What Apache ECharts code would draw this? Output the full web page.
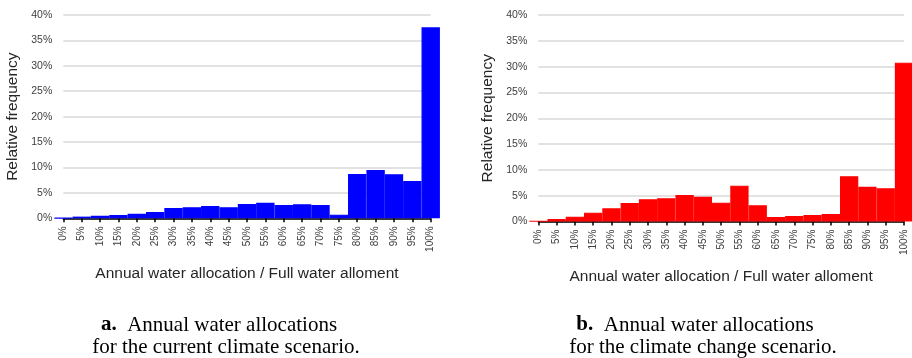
<!DOCTYPE html>
<html>
<head>
<meta charset="utf-8">
<script src="https://cdn.jsdelivr.net/npm/echarts@6/dist/echarts.min.js"></script>
<style>
  html, body { margin: 0; padding: 0; background: #ffffff; }
  #chart { width: 912px; height: 358px; }
</style>
</head>
<body>
<div id="chart"></div>
<script>
// Allocation classes (share of the full water allotment)
const allocationClasses = ['0%', '5%', '10%', '15%', '20%', '25%', '30%', '35%', '40%', '45%', '50%',
  '55%', '60%', '65%', '70%', '75%', '80%', '85%', '90%', '95%', '100%'];

// Relative frequency (%) of each class, current climate scenario
const currentClimate = [0.1, 0.33, 0.5, 0.66, 0.9, 1.24, 2.03, 2.16, 2.42, 2.16, 2.81,
  3.07, 2.62, 2.75, 2.62, 0.72, 8.72, 9.5, 8.66, 7.34, 37.57];

// Relative frequency (%) of each class, climate change scenario
const climateChange = [0.1, 0.48, 0.94, 1.71, 2.55, 3.58, 4.3, 4.5, 5.14, 4.8, 3.65,
  6.94, 3.14, 0.87, 1.07, 1.26, 1.45, 8.76, 6.74, 6.43, 30.77];

// Y axis range and step (%)
const yMin = 0, yMax = 40, yStep = 5;

const xAxisName = 'Annual water allocation / Full water alloment';
const yAxisName = 'Relative frequency';

const axisFont = '"Liberation Sans", Arial, sans-serif';
const captionFont = '"Liberation Serif", "Times New Roman", serif';

function xAxisFor(gridIndex) {
  return {
    type: 'category',
    gridIndex: gridIndex,
    data: allocationClasses,
    boundaryGap: false,
    name: xAxisName,
    nameLocation: 'middle',
    nameGap: 47,
    nameTextStyle: { fontFamily: axisFont, fontSize: 15.5, color: '#262626' },
    axisLine: { show: true, lineStyle: { color: '#000000', width: 1.5 } },
    axisTick: { show: true, length: 4, lineStyle: { color: '#000000', width: 1.5 } },
    axisLabel: { rotate: 90, interval: 0, margin: 8, fontFamily: axisFont, fontSize: 10, color: '#404040' },
    splitLine: { show: false }
  };
}

function yAxisFor(gridIndex) {
  return {
    type: 'value',
    gridIndex: gridIndex,
    min: yMin,
    max: yMax,
    interval: yStep,
    name: yAxisName,
    nameLocation: 'middle',
    nameGap: 43,
    nameRotate: 90,
    nameTextStyle: { fontFamily: axisFont, fontSize: 15.5, color: '#262626' },
    axisLine: { show: false },
    axisTick: { show: false },
    axisLabel: { formatter: '{value}%', margin: 11, fontFamily: axisFont, fontSize: 10.5, color: '#404040' },
    splitLine: { show: true, lineStyle: { color: '#d9d9d9', width: 1.5 } }
  };
}

function barsFor(index, values, color) {
  return {
    type: 'bar',
    xAxisIndex: index,
    yAxisIndex: index,
    data: values,
    barWidth: '100%',
    clip: false,
    itemStyle: { color: color, borderColor: color, borderWidth: 1.2 },
    emphasis: { disabled: true }
  };
}

function captionLine(x, y, text, rich) {
  return {
    type: 'text',
    x: x,
    y: y,
    style: {
      text: text,
      fill: '#000000',
      font: '21px ' + captionFont,
      align: 'center',
      verticalAlign: 'middle',
      rich: rich
    }
  };
}

const boldLetter = { b: { fontWeight: 'bold', fontSize: 21, fontFamily: captionFont, fill: '#000000' } };

const chart = echarts.init(document.getElementById('chart'), null, { renderer: 'canvas' });
chart.setOption({
  animation: false,
  backgroundColor: '#ffffff',
  grid: [
    { left: 63.3, right: 481.3, top: 15, bottom: 139.7, containLabel: false },
    { left: 538.3, right: 8, top: 15, bottom: 136.5, containLabel: false }
  ],
  xAxis: [xAxisFor(0), xAxisFor(1)],
  yAxis: [yAxisFor(0), yAxisFor(1)],
  series: [
    barsFor(0, currentClimate, '#0000ff'),
    barsFor(1, climateChange, '#ff0000')
  ],
  graphic: [
    captionLine(219, 325, '{b|a.}  Annual water allocations', boldLetter),
    captionLine(226, 347, 'for the current climate scenario.'),
    captionLine(695, 325, '{b|b.}  Annual water allocations', boldLetter),
    captionLine(703, 347, 'for the climate change scenario.')
  ]
});
</script>
</body>
</html>
